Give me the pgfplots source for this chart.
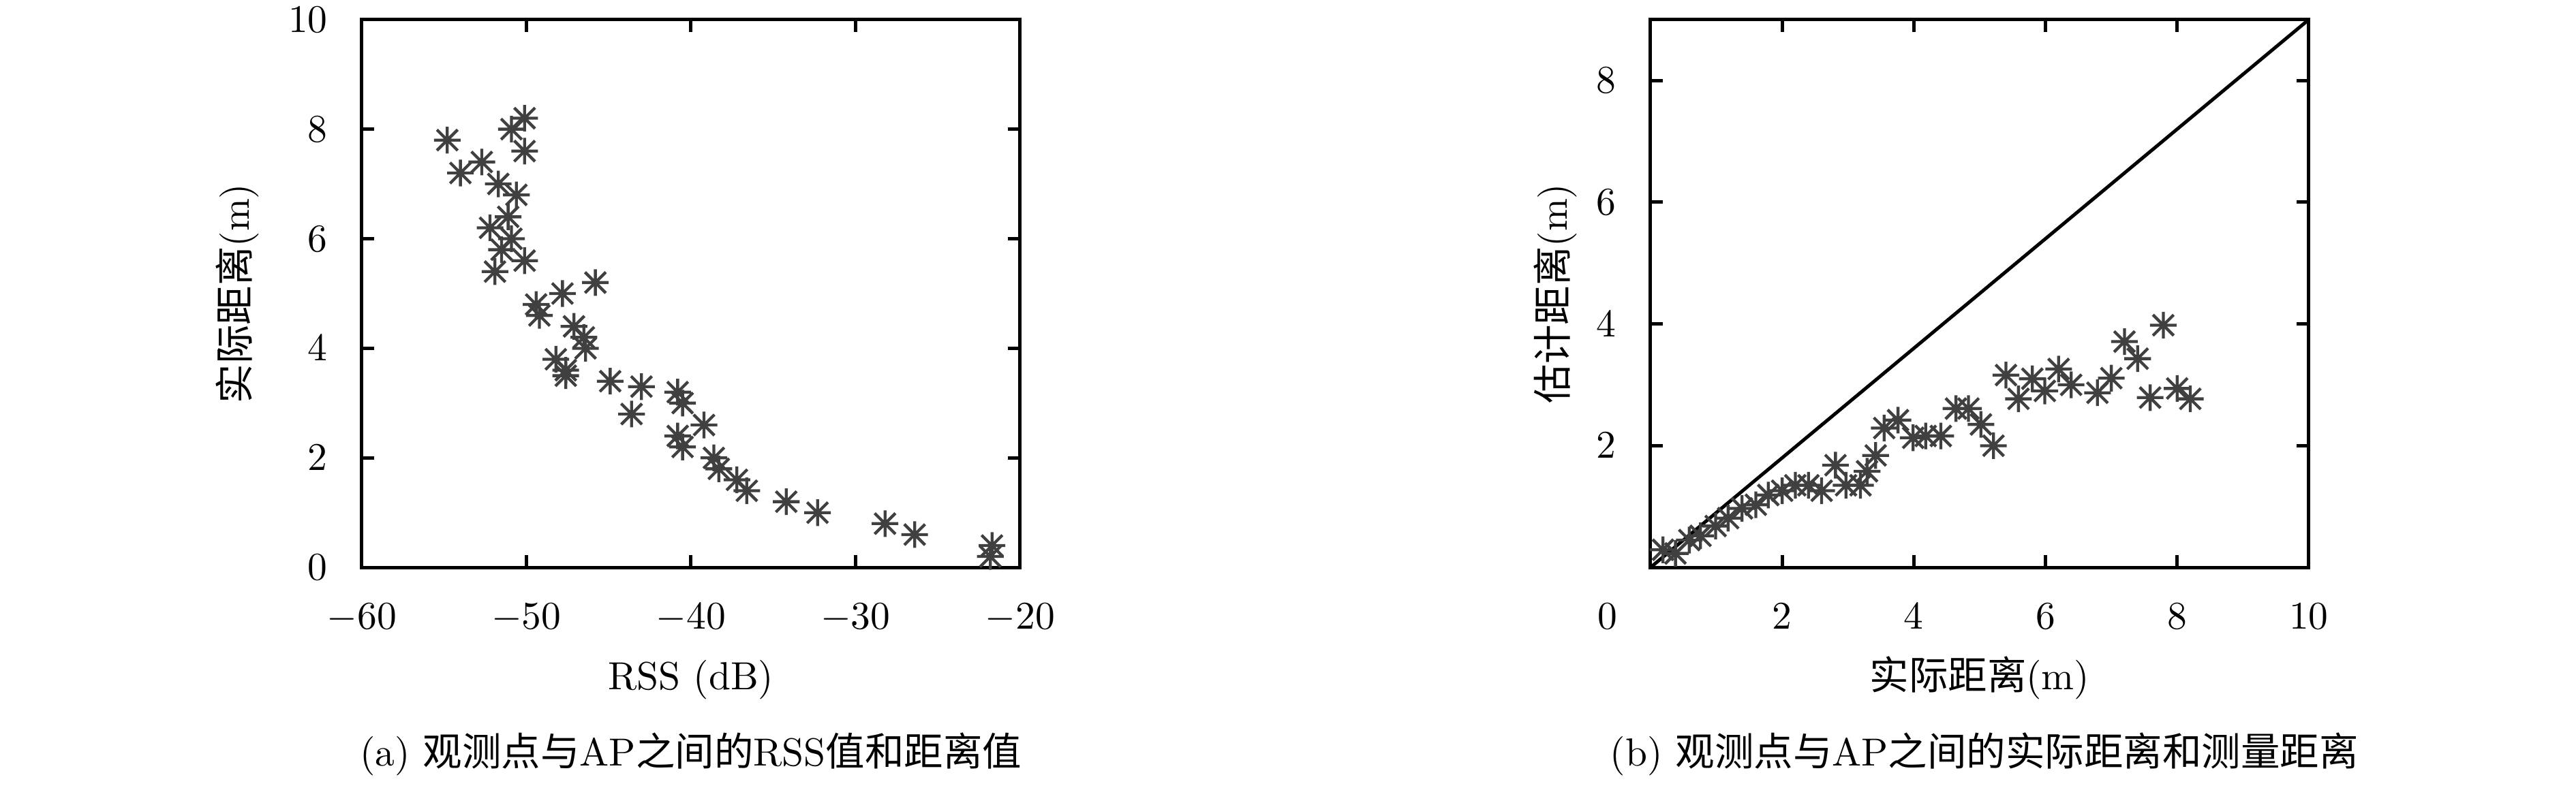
\documentclass[border=0pt]{standalone}
\usepackage{fontspec}
\newfontfamily\cjk{Noto Sans CJK SC}
\usepackage{pgfplots}
\pgfplotsset{compat=1.18}

% gnuplot-style asterisk: plus and cross together
\pgfdeclareplotmark{gpstar}{%
  \pgfpathmoveto{\pgfqpoint{-\pgfplotmarksize}{0pt}}%
  \pgfpathlineto{\pgfqpoint{\pgfplotmarksize}{0pt}}%
  \pgfpathmoveto{\pgfqpoint{0pt}{-\pgfplotmarksize}}%
  \pgfpathlineto{\pgfqpoint{0pt}{\pgfplotmarksize}}%
  \pgfpathmoveto{\pgfqpoint{-.78\pgfplotmarksize}{-.78\pgfplotmarksize}}%
  \pgfpathlineto{\pgfqpoint{.78\pgfplotmarksize}{.78\pgfplotmarksize}}%
  \pgfpathmoveto{\pgfqpoint{-.78\pgfplotmarksize}{.78\pgfplotmarksize}}%
  \pgfpathlineto{\pgfqpoint{.78\pgfplotmarksize}{-.78\pgfplotmarksize}}%
  \pgfusepathqstroke}

\definecolor{markgray}{RGB}{64,64,64}

\pgfplotsset{
  gpaxis/.style={
    scale only axis,
    width=168pt, height=139.9pt,
    anchor=south west,
    axis line style={line width=0.87pt},
    every tick/.style={black, line width=0.87pt},
    major tick length=3.1pt,
    tick align=inside,
    yticklabel style={xshift=-5.2pt},
    xticklabel style={yshift=-5.7pt},
    every axis x label/.style={at={(axis description cs:0.5,-0.2223)}, anchor=base},
  },
  gpstars/.style={only marks, mark=gpstar, mark size=3.4pt,
    mark options={draw=markgray, line width=0.75pt}},
}

\begin{document}
\begin{tikzpicture}
\useasboundingbox (0,0) rectangle (657.4pt,201.2pt);

% (a) RSS vs. actual distance
\begin{axis}[gpaxis,
  at={(92.3pt,56.3pt)},
  xmin=-60, xmax=-20, ymin=0, ymax=10,
  xtick={-60,-50,...,-20}, ytick={0,2,...,10},
  xlabel={RSS (dB)},
  ylabel={{\cjk 实际距离}(m)},
  every axis y label/.style={at={(axis description cs:-0.189,0.5)}, rotate=90, anchor=center},
]
\addplot[gpstars] coordinates {
  (-54.8,7.8) (-54.0,7.2) (-52.7,7.4) (-51.7,7.0) (-50.9,8.0) (-50.1,8.2)
  (-50.1,7.6) (-50.6,6.8) (-51.1,6.4) (-52.2,6.2) (-50.9,6.0) (-51.5,5.8)
  (-50.1,5.6) (-51.9,5.4) (-45.8,5.2) (-47.8,5.0) (-49.4,4.8) (-49.2,4.6)
  (-47.1,4.4) (-46.5,4.2) (-46.4,4.0) (-48.2,3.8) (-47.6,3.6) (-47.6,3.5)
  (-44.9,3.4) (-43.0,3.3) (-43.6,2.8) (-40.8,3.2) (-40.5,3.0) (-39.2,2.6)
  (-40.8,2.4) (-40.5,2.2) (-38.6,2.0) (-38.3,1.8) (-37.2,1.6) (-36.6,1.4)
  (-34.2,1.2) (-32.3,1.0) (-28.2,0.8) (-26.4,0.6) (-21.7,0.4) (-21.8,0.2)
};
\end{axis}
\node[anchor=base] at (176.3pt,5.6pt) {(a) {\cjk 观测点与}AP{\cjk 之间的}RSS{\cjk 值和距离值}};

% (b) actual vs. estimated distance
\begin{axis}[gpaxis,
  at={(421.2pt,56.3pt)},
  xmin=0, xmax=10, ymin=0, ymax=9,
  xtick={0,2,...,10}, ytick={2,4,6,8},
  xticklabels={\llap{$0$\hspace{8.5pt}},$2$,$4$,$6$,$8$,$10$},
  xlabel={{\cjk 实际距离}(m)},
  ylabel={{\cjk 估计距离}(m)},
  every axis y label/.style={at={(axis description cs:-0.144,0.5)}, rotate=90, anchor=center},
]
\addplot[black, line width=0.87pt, mark=none] coordinates {(0,0) (10,9)};
\addplot[gpstars] coordinates {
  (0.19,0.29) (0.38,0.23) (0.59,0.45) (0.76,0.52) (0.99,0.68) (1.18,0.81)
  (1.39,0.97) (1.60,1.03) (1.79,1.19) (2.00,1.26) (2.20,1.35) (2.40,1.35)
  (2.60,1.26) (2.81,1.68) (2.97,1.35) (3.19,1.35) (3.29,1.58) (3.42,1.84)
  (3.55,2.29) (3.76,2.42) (3.99,2.13) (4.18,2.16) (4.41,2.16) (4.64,2.61)
  (4.83,2.61) (5.02,2.35) (5.21,2.00) (5.40,3.16) (5.59,2.77) (5.80,3.10)
  (5.99,2.90) (6.20,3.26) (6.39,3.00) (6.79,2.87) (7.00,3.11) (7.20,3.71)
  (7.40,3.43) (7.59,2.79) (7.79,3.98) (8.00,2.94) (8.20,2.77)
};
\end{axis}
\node[anchor=base] at (506.4pt,5.6pt) {(b) {\cjk 观测点与}AP{\cjk 之间的实际距离和测量距离}};
\end{tikzpicture}
\end{document}
